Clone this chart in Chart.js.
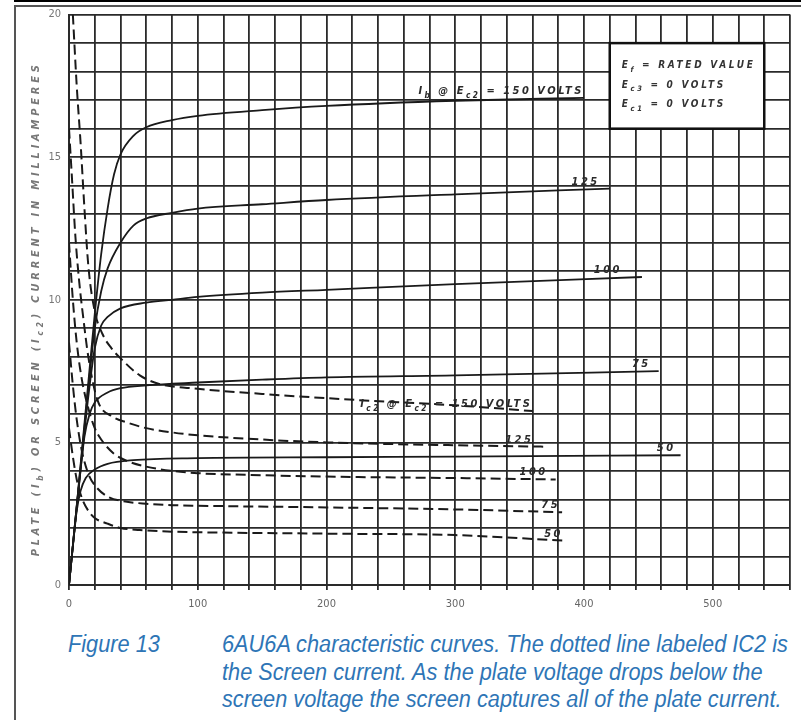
<!DOCTYPE html>
<html>
<head>
<meta charset="utf-8">
<script src="https://cdn.jsdelivr.net/npm/chart.js@4.4.0/dist/chart.umd.min.js"></script>
<style>
  html, body { margin: 0; padding: 0; background: #fff; }
  body { width: 801px; height: 720px; position: relative; overflow: hidden; }
  #wrap { position: absolute; left: 0; top: 0; width: 801px; height: 620px; }
  .rule { position: absolute; z-index: 2; }
  .cap {
    position: absolute;
    font-family: "Liberation Sans", Arial, sans-serif;
    font-style: italic;
    font-size: 23.5px;
    line-height: 27.5px;
    color: #2e75b6;
    white-space: nowrap;
    transform: scaleX(0.925);
    transform-origin: left top;
  }
</style>
</head>
<body>
<div class="rule" style="left:14px;top:0;width:787px;height:2px;background:#000"></div>
<div class="rule" style="left:14px;top:5px;width:787px;height:2px;background:#555"></div>
<div class="rule" style="left:14px;top:5px;width:2px;height:715px;background:#555"></div>
<div id="wrap"><canvas id="chart"></canvas></div>
<div class="cap" style="left:68px;top:631px">Figure 13</div>
<div class="cap" style="left:222px;top:631px">6AU6A characteristic curves. The dotted line labeled IC2 is<br>the Screen current. As the plate voltage drops below the<br>screen voltage the screen captures all of the plate current.</div>
<script>
// plate current (solid) for each screen voltage, x = plate volts, y = mA
const ib150V = [0, 5, 10, 15, 20, 25, 30, 35, 40, 50, 60, 80, 100, 150, 200, 300, 400];
const ib150mA = [0, 2.3, 4.7, 7.1, 9.5, 11.6, 13.2, 14.4, 15.1, 15.75, 16.05, 16.3, 16.45, 16.65, 16.8, 16.98, 17.08];
const ib125V = [0, 5, 10, 15, 20, 25, 30, 40, 50, 60, 80, 100, 150, 200, 300, 420];
const ib125mA = [0, 2.3, 4.6, 6.9, 9.0, 10.3, 11.1, 12.0, 12.6, 12.85, 13.05, 13.2, 13.35, 13.5, 13.7, 13.9];
const ib100V = [0, 5, 10, 15, 20, 25, 30, 40, 60, 80, 100, 150, 200, 300, 445];
const ib100mA = [0, 2.3, 4.5, 6.6, 8.3, 9.1, 9.4, 9.7, 9.9, 10.0, 10.1, 10.25, 10.35, 10.55, 10.8];
const ib75V = [0, 4, 8, 12, 16, 20, 30, 40, 60, 100, 150, 200, 300, 458];
const ib75mA = [0, 1.8, 3.6, 5.2, 6.0, 6.4, 6.75, 6.9, 7.0, 7.1, 7.2, 7.28, 7.35, 7.5];
const ib50V = [0, 3, 6, 9, 13, 20, 30, 50, 100, 200, 300, 475];
const ib50mA = [0, 1.4, 2.6, 3.3, 3.75, 4.05, 4.25, 4.38, 4.45, 4.48, 4.5, 4.55];

// screen current (dashed)
const ic150V = [3, 6, 9, 12, 15, 20, 26, 33, 40, 55, 70, 100, 150, 200, 250, 300, 360];
const ic150mA = [20, 17.5, 15.5, 13.2, 11.2, 9.6, 8.8, 8.3, 7.95, 7.35, 7.05, 6.88, 6.7, 6.55, 6.42, 6.3, 6.1];
const ic125V = [0, 2, 5, 8, 11, 15, 22, 34, 45, 60, 80, 100, 150, 200, 300, 370];
const ic125mA = [16, 14.5, 12.2, 10.6, 9.4, 8.0, 6.5, 5.9, 5.7, 5.5, 5.35, 5.25, 5.1, 5.0, 4.9, 4.85];
const ic100V = [0, 3, 6, 10, 15, 20, 25, 35, 45, 60, 80, 100, 150, 200, 300, 378];
const ic100mA = [12, 10, 8.5, 7.2, 6.2, 5.5, 5.1, 4.6, 4.35, 4.15, 4.0, 3.92, 3.85, 3.8, 3.75, 3.7];
const ic75V = [0, 3, 6, 10, 15, 20, 30, 45, 60, 80, 100, 200, 300, 383];
const ic75mA = [8.5, 7, 5.8, 4.7, 3.9, 3.5, 3.1, 2.92, 2.85, 2.8, 2.78, 2.72, 2.65, 2.55];
const ic50V = [0, 3, 6, 10, 15, 20, 30, 40, 55, 80, 100, 200, 300, 386];
const ic50mA = [5.5, 4.5, 3.7, 3.05, 2.6, 2.35, 2.15, 2.0, 1.93, 1.87, 1.85, 1.8, 1.75, 1.55];

const xTickLabels = [0, 100, 200, 300, 400, 500];
const yTickLabels = [0, 5, 10, 15, 20];

// text bits: [text, isSubscript]
const curveNotes = [
  { ds: 0, parts: [['I'], ['b', 1], [' @ E'], ['c2', 1], [' = 150 VOLTS']], dx: 0 },
  { ds: 1, parts: [['125']], dx: -10 },
  { ds: 2, parts: [['100']], dx: -20 },
  { ds: 3, parts: [['75']], dx: -8 },
  { ds: 4, parts: [['50']], dx: -5 },
  { ds: 5, parts: [['I'], ['c2', 1], [' @ E'], ['c2', 1], [' = 150 VOLTS']], dx: 0 },
  { ds: 6, parts: [['125']], dx: -12 },
  { ds: 7, parts: [['100']], dx: -8 },
  { ds: 8, parts: [['75']], dx: -2 },
  { ds: 9, parts: [['50']], dx: -3 }
];
const boxLines = [
  [['E'], ['f', 1], [' = RATED VALUE']],
  [['E'], ['c3', 1], [' = 0 VOLTS']],
  [['E'], ['c1', 1], [' = 0 VOLTS']]
];
const axisTitle = [['PLATE (I'], ['b', 1], [') OR SCREEN (I'], ['c2', 1], [') CURRENT IN MILLIAMPERES']];

function pts(xs, ys) {
  return xs.map((x, i) => ({ x: x, y: ys[i] }));
}

function curve(xs, ys, dashed) {
  return {
    data: pts(xs, ys),
    borderColor: '#1a1a1a',
    borderWidth: dashed ? 2 : 1.8,
    borderDash: dashed ? [10, 5] : [],
    pointRadius: 0,
    cubicInterpolationMode: 'monotone',
    fill: false
  };
}

function setFont(ctx, sub, size) {
  const s = sub ? size * 0.75 : size;
  ctx.font = `italic bold ${s}px "DejaVu Sans Condensed", "DejaVu Sans", sans-serif`;
}

function richWidth(ctx, parts, size) {
  let w = 0;
  parts.forEach(p => {
    setFont(ctx, p[1], size);
    w += ctx.measureText(p[0]).width;
  });
  return w;
}

function drawRich(ctx, parts, x, y, align, size, color) {
  ctx.save();
  ctx.fillStyle = color;
  ctx.textBaseline = 'alphabetic';
  ctx.textAlign = 'left';
  let cx = align === 'right' ? x - richWidth(ctx, parts, size) : x;
  parts.forEach(p => {
    setFont(ctx, p[1], size);
    ctx.fillText(p[0], cx, p[1] ? y + size * 0.35 : y);
    cx += ctx.measureText(p[0]).width;
  });
  ctx.restore();
}

const notesPlugin = {
  id: 'notes',
  afterDraw(chart) {
    const ctx = chart.ctx;
    const xs = chart.scales.x, ys = chart.scales.y;

    // curve labels at the ends of the curves
    ctx.save();
    ctx.letterSpacing = '2.5px';
    curveNotes.forEach(n => {
      const meta = chart.getDatasetMeta(n.ds);
      const last = meta.data[meta.data.length - 1];
      drawRich(ctx, n.parts, last.x + n.dx, last.y - 4, 'right', 11, '#2a2a2a');
    });
    ctx.restore();

    // conditions box
    const bx1 = xs.getPixelForValue(420), bx2 = xs.getPixelForValue(540);
    const by1 = ys.getPixelForValue(19), by2 = ys.getPixelForValue(16);
    ctx.save();
    ctx.fillStyle = '#fff';
    ctx.fillRect(bx1, by1, bx2 - bx1, by2 - by1);
    ctx.strokeStyle = '#111';
    ctx.lineWidth = 2.5;
    ctx.strokeRect(bx1, by1, bx2 - bx1, by2 - by1);
    ctx.letterSpacing = '2.7px';
    boxLines.forEach((line, i) => {
      drawRich(ctx, line, bx1 + 12, by1 + 25 + i * 19.5, 'left', 10, '#333');
    });
    ctx.restore();

    // y axis title, letter spaced to span the plot height
    ctx.save();
    ctx.letterSpacing = '0px';
    const plain = richWidth(ctx, axisTitle, 11);
    const chars = axisTitle.reduce((s, p) => s + p[0].length, 0);
    ctx.letterSpacing = ((495 - plain) / chars).toFixed(2) + 'px';
    ctx.translate(39, (chart.chartArea.top + chart.chartArea.bottom) / 2 + 9);
    ctx.rotate(-Math.PI / 2);
    const w = richWidth(ctx, axisTitle, 11);
    drawRich(ctx, axisTitle, -w / 2, 0, 'left', 11, '#777');
    ctx.restore();
  }
};

new Chart(document.getElementById('chart'), {
  type: 'line',
  data: {
    datasets: [
      curve(ib150V, ib150mA, false),
      curve(ib125V, ib125mA, false),
      curve(ib100V, ib100mA, false),
      curve(ib75V, ib75mA, false),
      curve(ib50V, ib50mA, false),
      curve(ic150V, ic150mA, true),
      curve(ic125V, ic125mA, true),
      curve(ic100V, ic100mA, true),
      curve(ic75V, ic75mA, true),
      curve(ic50V, ic50mA, true)
    ]
  },
  options: {
    responsive: true,
    maintainAspectRatio: false,
    animation: false,
    layout: { padding: { left: 16, top: 13, right: 11, bottom: 5 } },
    plugins: {
      legend: { display: false },
      tooltip: { enabled: false }
    },
    scales: {
      x: {
        type: 'linear',
        min: 0,
        max: 560,
        afterFit: s => { s.height = 30; },
        grid: { color: '#2a2a2a', lineWidth: 1.8, tickLength: 5 },
        border: { color: '#2a2a2a', width: 2 },
        ticks: {
          stepSize: 20,
          padding: 8,
          maxRotation: 0,
          autoSkip: false,
          color: '#666',
          font: { family: '"DejaVu Sans Condensed", "DejaVu Sans", sans-serif', size: 11 },
          callback: v => xTickLabels.includes(v) ? String(v) : ''
        }
      },
      y: {
        min: 0,
        max: 20,
        afterFit: s => { s.width = 53; },
        grid: { color: '#2a2a2a', lineWidth: 1.8, drawTicks: false },
        border: { color: '#2a2a2a', width: 2 },
        ticks: {
          stepSize: 1,
          padding: 8,
          autoSkip: false,
          color: '#777',
          font: { family: '"DejaVu Sans Condensed", "DejaVu Sans", sans-serif', size: 11 },
          callback: v => yTickLabels.includes(v) ? String(v) : ''
        }
      }
    }
  },
  plugins: [notesPlugin]
});
</script>
</body>
</html>
